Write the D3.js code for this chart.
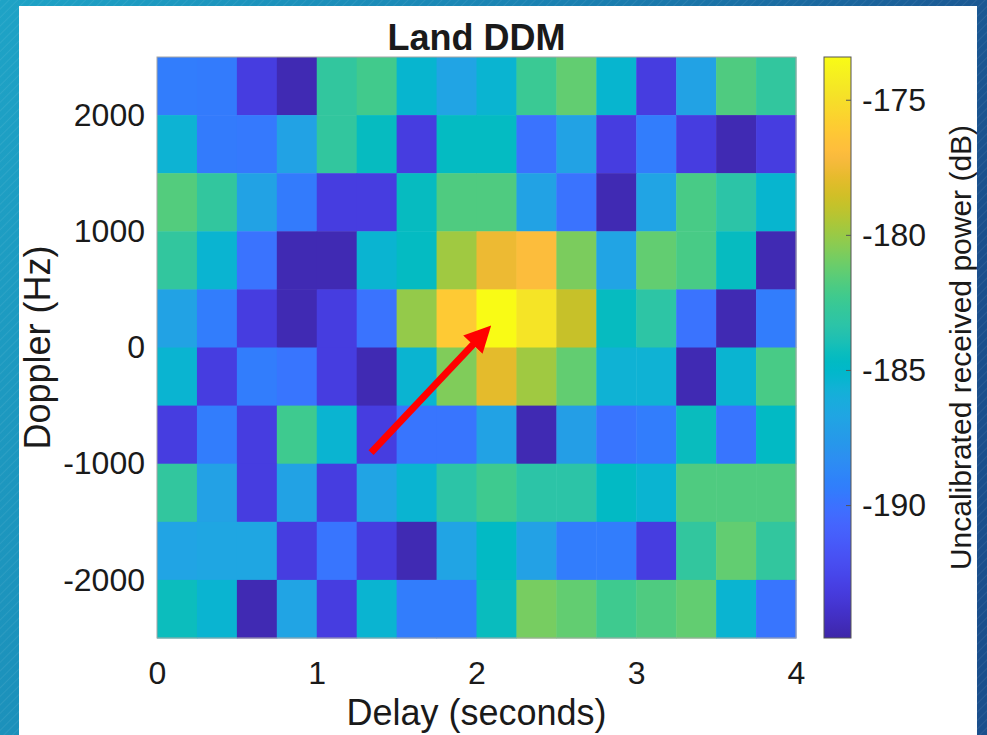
<!DOCTYPE html>
<html>
<head>
<meta charset="utf-8">
<script src="https://cdn.jsdelivr.net/npm/d3@7"></script>
<style>
  body { margin: 0; overflow: hidden; }
  text { font-family: "Liberation Sans", Arial, sans-serif; fill: #1a1a1a; }
</style>
</head>
<body>
<div id="VisContainer"></div>
<script>
// delay bin centres (seconds) and doppler bin centres (Hz, top row first)
delayBins = [0.125, 0.375, 0.625, 0.875, 1.125, 1.375, 1.625, 1.875, 2.125, 2.375, 2.625, 2.875, 3.125, 3.375, 3.625, 3.875];
dopplerBins = [2250, 1750, 1250, 750, 250, -250, -750, -1250, -1750, -2250];

// received power (dB), one row per doppler bin
power = [
  [-189.4, -189.5, -193.1, -194.6, -182.9, -182.2, -185.3, -186.8, -185.4, -182.5, -181.3, -185.3, -193.1, -186.9, -181.8, -182.9],
  [-185.5, -189.5, -189.6, -186.9, -182.9, -184.5, -193.1, -184.6, -184.6, -189.9, -186.9, -193.1, -189.4, -193.1, -194.6, -193.1],
  [-181.7, -182.9, -186.9, -189.5, -193.1, -193.1, -184.5, -181.8, -181.8, -186.9, -189.9, -194.6, -186.8, -182.0, -183.3, -185.3],
  [-182.9, -185.4, -189.9, -194.6, -194.6, -185.4, -184.6, -179.8, -177.6, -176.9, -180.7, -186.8, -181.3, -182.0, -184.5, -194.6],
  [-186.9, -189.4, -193.1, -194.6, -193.1, -189.9, -180.1, -176.1, -173.4, -174.7, -178.8, -184.5, -183.2, -189.9, -194.6, -189.4],
  [-185.4, -193.1, -189.4, -189.8, -193.1, -194.6, -185.4, -180.6, -177.9, -179.8, -181.3, -185.6, -185.6, -194.6, -185.4, -182.0],
  [-193.1, -189.4, -193.1, -182.3, -185.4, -193.1, -189.8, -189.8, -186.9, -194.6, -187.2, -189.8, -189.4, -184.4, -189.8, -184.7],
  [-182.9, -187.0, -193.1, -186.9, -193.1, -186.8, -185.4, -183.3, -182.3, -183.3, -183.3, -184.7, -185.4, -181.8, -181.8, -181.8],
  [-186.8, -186.6, -186.6, -193.1, -189.8, -193.1, -194.6, -186.8, -184.7, -187.0, -189.4, -189.4, -193.1, -182.9, -181.3, -182.9],
  [-184.3, -185.4, -194.6, -186.8, -193.1, -185.4, -189.4, -189.4, -184.4, -180.8, -181.3, -182.3, -181.8, -181.3, -185.4, -189.8]
];

xTicks = [0, 1, 2, 3, 4];
yTicks = [-2000, -1000, 0, 1000, 2000];
cTicks = [-190, -185, -180, -175];
colorLimits = [-194.9, -173.4];

// arrow pointing at the specular peak (delay, doppler)
arrowFrom = [1.34, -905];
arrowTo = [2.12, 235];

// matlab parula, 64 entries
parula = [
[0.2422,0.1504,0.6603],[0.2504,0.1650,0.7076],[0.2578,0.1818,0.7511],[0.2647,0.1978,0.7952],
[0.2706,0.2147,0.8364],[0.2751,0.2342,0.8710],[0.2783,0.2559,0.8991],[0.2803,0.2782,0.9221],
[0.2813,0.3006,0.9414],[0.2810,0.3228,0.9579],[0.2795,0.3447,0.9717],[0.2760,0.3667,0.9829],
[0.2699,0.3892,0.9906],[0.2602,0.4123,0.9952],[0.2440,0.4358,0.9988],[0.2206,0.4603,0.9973],
[0.1963,0.4847,0.9892],[0.1834,0.5074,0.9798],[0.1786,0.5289,0.9682],[0.1764,0.5499,0.9520],
[0.1687,0.5703,0.9359],[0.1540,0.5902,0.9218],[0.1460,0.6091,0.9079],[0.1380,0.6276,0.8973],
[0.1248,0.6459,0.8883],[0.1113,0.6635,0.8763],[0.0952,0.6798,0.8598],[0.0689,0.6948,0.8394],
[0.0297,0.7082,0.8163],[0.0036,0.7203,0.7917],[0.0067,0.7312,0.7660],[0.0433,0.7411,0.7394],
[0.0964,0.7500,0.7120],[0.1408,0.7584,0.6842],[0.1717,0.7670,0.6554],[0.1938,0.7758,0.6251],
[0.2161,0.7843,0.5923],[0.2470,0.7918,0.5567],[0.2906,0.7973,0.5188],[0.3406,0.8008,0.4789],
[0.3909,0.8029,0.4354],[0.4456,0.8024,0.3909],[0.5044,0.7993,0.3480],[0.5616,0.7942,0.3045],
[0.6174,0.7876,0.2612],[0.6720,0.7793,0.2227],[0.7242,0.7698,0.1910],[0.7738,0.7598,0.1646],
[0.8203,0.7498,0.1535],[0.8634,0.7406,0.1596],[0.9035,0.7330,0.1774],[0.9393,0.7288,0.2100],
[0.9728,0.7298,0.2394],[0.9956,0.7434,0.2371],[0.9970,0.7659,0.2199],[0.9952,0.7893,0.2028],
[0.9892,0.8136,0.1885],[0.9786,0.8386,0.1766],[0.9676,0.8639,0.1643],[0.9610,0.8890,0.1537],
[0.9597,0.9135,0.1423],[0.9628,0.9373,0.1265],[0.9691,0.9606,0.1064],[0.9769,0.9839,0.0805]
].map(function(c){ return d3.rgb(c[0]*255, c[1]*255, c[2]*255).formatHex(); });

W = 987; H = 735;
plot = {left: 157, right: 796, top: 57, bottom: 638};
cbar = {left: 824, right: 851};
tickFont = 32;
labelFont = 36;
fmt = function(d){ return String(d); };   // plain hyphen minus like matlab

svg = d3.select("#VisContainer").append("svg")
  .attr("width", W).attr("height", H);

defs = svg.append("defs");

// slide background: teal-to-navy with faint diagonal hatching
bgGrad = defs.append("linearGradient").attr("id", "bgGrad")
  .attr("x1", "0%").attr("y1", "0%").attr("x2", "100%").attr("y2", "30%");
bgGrad.append("stop").attr("offset", "0%").attr("stop-color", "#1ea3c6");
bgGrad.append("stop").attr("offset", "55%").attr("stop-color", "#1a7fb0");
bgGrad.append("stop").attr("offset", "100%").attr("stop-color", "#1b4f8c");

hatch = defs.append("pattern").attr("id", "hatch")
  .attr("width", 6).attr("height", 6)
  .attr("patternUnits", "userSpaceOnUse")
  .attr("patternTransform", "rotate(45)");
hatch.append("line").attr("x1", 0).attr("y1", 0).attr("x2", 0).attr("y2", 6)
  .attr("stroke", "#ffffff").attr("stroke-opacity", 0.07).attr("stroke-width", 2);

svg.append("rect").attr("width", W).attr("height", H).attr("fill", "url(#bgGrad)");
svg.append("rect").attr("width", W).attr("height", H).attr("fill", "url(#hatch)");

// white content panel
svg.append("rect").attr("x", 19).attr("y", 6).attr("width", 958).attr("height", H - 6)
  .attr("fill", "#ffffff");

x = d3.scaleLinear().domain([0, 4]).range([plot.left, plot.right]);
y = d3.scaleLinear().domain([-2500, 2500]).range([plot.bottom, plot.top]);

colorScale = d3.scaleLinear()
  .domain(d3.range(64).map(function(i){ return colorLimits[0] + (colorLimits[1]-colorLimits[0]) * i / 63; }))
  .range(parula)
  .clamp(true);

cells = [];
power.forEach(function(row, r){
  row.forEach(function(v, c){
    cells.push({delay: delayBins[c], doppler: dopplerBins[r], value: v});
  });
});

halfDelay = 0.125; halfDoppler = 250;

svg.append("g").selectAll("rect.cell")
  .data(cells)
  .enter().append("rect")
  .attr("class", "cell")
  .attr("x", function(d){ return x(d.delay - halfDelay); })
  .attr("y", function(d){ return y(d.doppler + halfDoppler); })
  .attr("width", function(d){ return x(d.delay + halfDelay) - x(d.delay - halfDelay) + 0.5; })
  .attr("height", function(d){ return y(d.doppler - halfDoppler) - y(d.doppler + halfDoppler) + 0.5; })
  .attr("fill", function(d){ return colorScale(d.value); });

// frame
svg.append("rect")
  .attr("x", plot.left).attr("y", plot.top)
  .attr("width", plot.right - plot.left).attr("height", plot.bottom - plot.top)
  .attr("fill", "none").attr("stroke", "#a6a6a6").attr("stroke-width", 1);

// axes (ticks hidden under image like matlab's default layer)
xAxis = svg.append("g")
  .attr("transform", "translate(0," + plot.bottom + ")")
  .call(d3.axisBottom(x).tickValues(xTicks).tickSize(0).tickPadding(23).tickFormat(fmt));
yAxis = svg.append("g")
  .attr("transform", "translate(" + plot.left + ",0)")
  .call(d3.axisLeft(y).tickValues(yTicks).tickSize(0).tickPadding(12).tickFormat(fmt));
[xAxis, yAxis].forEach(function(a){
  a.select(".domain").remove();
  a.selectAll("text").attr("font-size", tickFont).attr("fill", "#1a1a1a")
    .attr("font-family", "Liberation Sans, Arial, sans-serif");
});

// red arrow
arrowHead = defs.append("marker").attr("id", "arrowHead")
  .attr("viewBox", "0 0 10 10").attr("refX", 7).attr("refY", 5)
  .attr("markerWidth", 3.8).attr("markerHeight", 4)
  .attr("orient", "auto").attr("markerUnits", "strokeWidth");
arrowHead.append("path").attr("d", "M0,0 L10,5 L0,10 Z").attr("fill", "#ff0000");

svg.append("line")
  .attr("x1", x(arrowFrom[0])).attr("y1", y(arrowFrom[1]))
  .attr("x2", x(arrowTo[0]) - 10).attr("y2", y(arrowTo[1]) + 11)
  .attr("stroke", "#ff0000").attr("stroke-width", 7)
  .attr("marker-end", "url(#arrowHead)");

// colorbar
cScale = d3.scaleLinear().domain(colorLimits).range([plot.bottom, plot.top]);
cGrad = defs.append("linearGradient").attr("id", "cGrad")
  .attr("x1", "0%").attr("y1", "100%").attr("x2", "0%").attr("y2", "0%");
parula.forEach(function(col, i){
  cGrad.append("stop").attr("offset", (i / 63 * 100) + "%").attr("stop-color", col);
});
svg.append("rect")
  .attr("x", cbar.left).attr("y", plot.top)
  .attr("width", cbar.right - cbar.left).attr("height", plot.bottom - plot.top)
  .attr("fill", "url(#cGrad)")
  .attr("stroke", "#555555").attr("stroke-width", 1);

cAxis = svg.append("g")
  .attr("transform", "translate(" + cbar.right + ",0)")
  .call(d3.axisRight(cScale).tickValues(cTicks).tickSize(0).tickPadding(11).tickFormat(fmt));
cAxis.select(".domain").remove();
cAxis.selectAll("text").attr("font-size", tickFont).attr("fill", "#1a1a1a")
  .attr("font-family", "Liberation Sans, Arial, sans-serif");
svg.append("g").selectAll("line.ctick")
  .data(cTicks)
  .enter().append("line")
  .attr("x1", cbar.right - 5).attr("x2", cbar.right)
  .attr("y1", function(d){ return cScale(d); })
  .attr("y2", function(d){ return cScale(d); })
  .attr("stroke", "#555555").attr("stroke-width", 1);

// titles
svg.append("text")
  .attr("x", (plot.left + plot.right) / 2).attr("y", 50)
  .attr("text-anchor", "middle").attr("font-size", labelFont).attr("font-weight", "bold")
  .attr("fill", "#000000")
  .text("Land DDM");

svg.append("text")
  .attr("x", (plot.left + plot.right) / 2).attr("y", 725)
  .attr("text-anchor", "middle").attr("font-size", labelFont)
  .text("Delay (seconds)");

svg.append("text")
  .attr("transform", "translate(50," + ((plot.top + plot.bottom) / 2) + ") rotate(-90)")
  .attr("text-anchor", "middle").attr("font-size", labelFont)
  .text("Doppler (Hz)");

svg.append("text")
  .attr("transform", "translate(971," + ((plot.top + plot.bottom) / 2) + ") rotate(-90)")
  .attr("text-anchor", "middle").attr("font-size", 30)
  .text("Uncalibrated received power (dB)");
</script>
</body>
</html>
